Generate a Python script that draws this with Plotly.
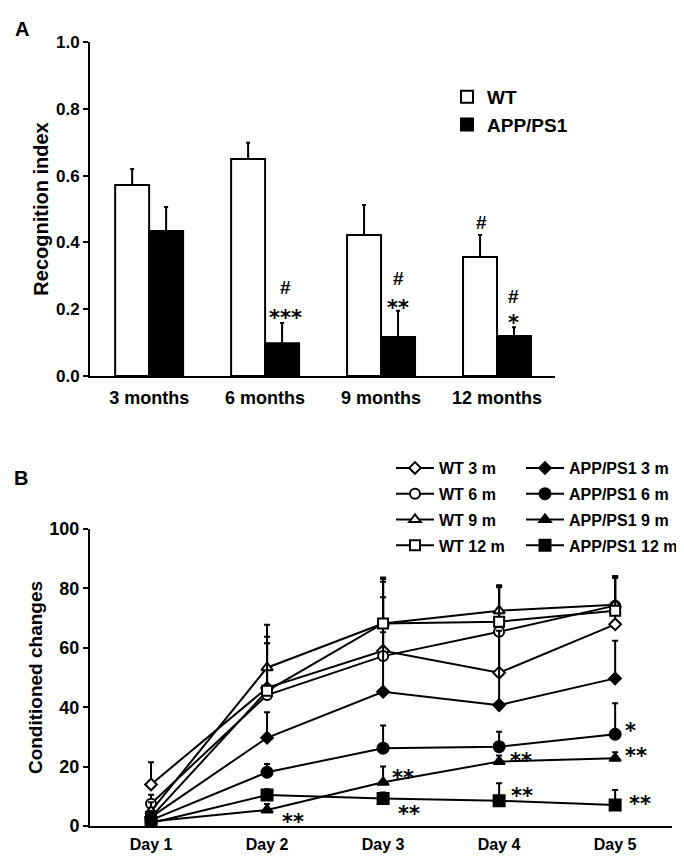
import plotly.graph_objects as go

# ---- panel A: recognition index ----
months = ["3 months", "6 months", "9 months", "12 months"]
wt_ri = [0.572, 0.65, 0.422, 0.356]
wt_ri_err = [0.048, 0.048, 0.09, 0.066]
app_ri = [0.434, 0.098, 0.117, 0.12]
app_ri_err = [0.072, 0.061, 0.078, 0.026]

# ---- panel B: conditioned changes ----
days = [1, 2, 3, 4, 5]
day_labels = ["Day 1", "Day 2", "Day 3", "Day 4", "Day 5"]
wt3 = [14.0, 46.5, 59.0, 51.6, 67.9]
wt3_err = [7.5, 15.0, 18.0, 20.0, 16.0]
wt6 = [7.5, 44.1, 57.2, 65.4, 74.2]
wt6_err = [3.0, 19.6, 26.0, 15.0, 10.0]
wt9 = [5.0, 53.3, 68.2, 72.5, 74.5]
wt9_err = [3.0, 14.5, 15.5, 8.6, 9.5]
wt12 = [3.0, 45.5, 68.2, 68.8, 72.5]
wt12_err = [2.0, 16.0, 14.0, 12.0, 11.0]
app3 = [3.0, 29.7, 45.2, 40.7, 49.7]
app3_err = [2.0, 8.6, 20.0, 25.0, 12.7]
app6 = [2.0, 18.1, 26.2, 26.7, 30.9]
app6_err = [1.5, 2.8, 7.6, 5.0, 10.4]
app9 = [1.5, 5.4, 14.7, 21.7, 22.8]
app9_err = [1.0, 2.0, 5.3, 2.0, 2.0]
app12 = [1.0, 10.4, 9.3, 8.5, 7.1]
app12_err = [1.0, 2.0, 2.0, 5.9, 5.0]

FONT = "Liberation Sans"
STAR_FONT = "DejaVu Sans"
# the page body has an 8px margin, so the figure is a bit smaller than the window
OFF = 8
W, H = 684 - OFF, 857 - OFF


def px_x(p):
    # page pixel -> paper fraction
    return (p - OFF) / W


def px_y(p):
    return 1 - (p - OFF) / H


def bf(size, family=FONT):
    return dict(family=family, size=size, color="black", weight="bold")


fig = go.Figure()

# bars
for name, vals, errs, fill in [("WT", wt_ri, wt_ri_err, "white"),
                               ("APP/PS1", app_ri, app_ri_err, "black")]:
    fig.add_trace(go.Bar(
        x=[0, 1, 2, 3], y=vals, name=name, offsetgroup=name,
        marker=dict(color=fill, line=dict(color="black", width=2)),
        error_y=dict(type="data", array=errs, arrayminus=[0] * 4, symmetric=False,
                     color="black", thickness=2, width=2),
        xaxis="x", yaxis="y", legend="legend",
    ))

# lines
series = [
    ("WT 3 m", wt3, wt3_err, "diamond", "white", 9, "legend2"),
    ("WT 6 m", wt6, wt6_err, "circle", "white", 10, "legend2"),
    ("WT 9 m", wt9, wt9_err, "triangle-up", "white", 10, "legend2"),
    ("WT 12 m", wt12, wt12_err, "square", "white", 10, "legend2"),
    ("APP/PS1 3 m", app3, app3_err, "diamond", "black", 9, "legend3"),
    ("APP/PS1 6 m", app6, app6_err, "circle", "black", 11, "legend3"),
    ("APP/PS1 9 m", app9, app9_err, "triangle-up", "black", 10, "legend3"),
    ("APP/PS1 12 m", app12, app12_err, "square", "black", 11, "legend3"),
]
for name, vals, errs, sym, fill, size, lg in series:
    fig.add_trace(go.Scatter(
        x=days, y=vals, name=name, mode="lines+markers",
        line=dict(color="black", width=2),
        marker=dict(symbol=sym, size=size, color=fill, line=dict(color="black", width=2)),
        error_y=dict(type="data", array=errs, arrayminus=[0] * 5, symmetric=False,
                     color="black", thickness=2, width=3),
        xaxis="x2", yaxis="y2", legend=lg, legendgroup=name,
    ))

ax_common = dict(showline=True, linecolor="black", linewidth=2, showgrid=False,
                 zeroline=False)

fig.update_layout(
    width=W, height=H, margin=dict(l=0, r=0, t=0, b=0, autoexpand=False),
    plot_bgcolor="white", paper_bgcolor="white",
    barmode="group", bargap=0.414, bargroupgap=0,
    font=dict(family=FONT, color="black"),
    xaxis=dict(domain=[px_x(90), px_x(555)], anchor="y", range=[-0.51, 3.5],
               tickvals=[0, 1, 2, 3], ticktext=months, ticks="", tickfont=bf(18),
               ticklabelstandoff=4, **ax_common),
    yaxis=dict(domain=[px_y(376), px_y(42)], anchor="x", range=[0, 1.0],
               tickvals=[0, 0.2, 0.4, 0.6, 0.8, 1.0], tickformat=".1f",
               ticks="outside", ticklen=5, tickwidth=2, tickcolor="black", tickfont=bf(17),
               title=dict(text="Recognition index", font=bf(20), standoff=2),
               **ax_common),
    xaxis2=dict(domain=[px_x(90), px_x(672)], anchor="y2", range=[0.474, 5.49],
                tickvals=days, ticktext=day_labels, ticks="", tickfont=bf(16),
                ticklabelstandoff=3, **ax_common),
    yaxis2=dict(domain=[px_y(826), px_y(529)], anchor="x2", range=[0, 100],
                tickvals=[0, 20, 40, 60, 80, 100],
                ticks="outside", ticklen=5, tickwidth=2, tickcolor="black", tickfont=bf(18),
                title=dict(text="Conditioned changes", font=bf(19), standoff=2),
                **ax_common),
    legend=dict(x=px_x(447), y=px_y(78), xanchor="left", yanchor="top",
                font=bf(19), bgcolor="rgba(0,0,0,0)", itemwidth=30,
                tracegroupgap=0),
    legend2=dict(x=px_x(391), y=px_y(451), xanchor="left", yanchor="top",
                 font=bf(16), bgcolor="rgba(0,0,0,0)", itemwidth=38,
                 tracegroupgap=2),
    legend3=dict(x=px_x(521), y=px_y(451), xanchor="left", yanchor="top",
                 font=bf(16), bgcolor="rgba(0,0,0,0)", itemwidth=38,
                 tracegroupgap=2),
    showlegend=True,
)

# panel letters
for txt, x, y in [("A", 13, 16), ("B", 12, 478)]:
    fig.add_annotation(x=px_x(x), y=px_y(y), xref="paper", yref="paper", text=txt,
                       showarrow=False, font=bf(20))

# significance marks (panel A)
marks_a = [("#", 1.18, 0.264), ("***", 1.18, 0.175),
           ("#", 2.147, 0.293), ("**", 2.147, 0.205),
           ("#", 2.862, 0.461),
           ("#", 3.138, 0.237), ("*", 3.138, 0.158)]
for txt, x, y in marks_a:
    f = bf(19) if txt == "#" else bf(21, STAR_FONT)
    fig.add_annotation(x=x, y=y, xref="x", yref="y", text=txt, showarrow=False, font=f)

# significance marks (panel B)
marks_b = [("**", 2.22, 1.2), ("**", 3.17, 16.3), ("**", 3.22, 4.2),
           ("**", 4.19, 22.0), ("**", 4.2, 10.0),
           ("*", 5.13, 32.0), ("**", 5.18, 23.7), ("**", 5.21, 7.5)]
for txt, x, y in marks_b:
    fig.add_annotation(x=x, y=y, xref="x2", yref="y2", text=txt, showarrow=False,
                       font=bf(21, STAR_FONT))

fig.write_html("out.html")
